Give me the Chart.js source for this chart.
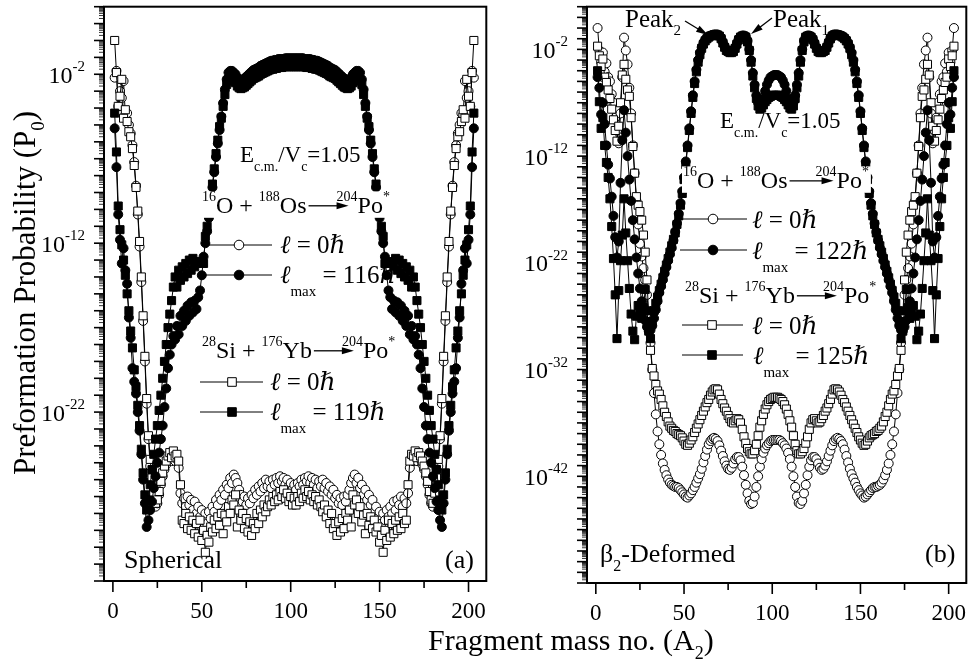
<!DOCTYPE html>
<html>
<head>
<meta charset="utf-8">
<script src="https://cdn.jsdelivr.net/npm/chart.js@4/dist/chart.umd.min.js"></script>
<style>
  body { margin: 0; background: #fff; }
  #wrap { position: relative; width: 973px; height: 669px; }
  canvas { position: absolute; top: 0; }
  #sph { left: 0; }
  #def { left: 493px; }
</style>
</head>
<body>
<div id="wrap">
  <canvas id="sph" width="493" height="669"></canvas>
  <canvas id="def" width="480" height="669"></canvas>
</div>
<script>
// fragment mass A2 = 1 .. 203 (compound nucleus 204Po*)
const massNo = Array.from({ length: 203 }, (_, i) => i + 1);

// log10(P0), A2 = 1..203
// (a) spherical
const sphO_l0 = [
  -2.2,-1.8,-3.9,-3.0,-3.4,-2.4,-4.4,-4.3,-5.0,-5.5,
  -6.2,-7.2,-8.6,-10.3,-12.2,-14.3,-16.6,-19.0,-21.5,-23.6,
  -25.2,-26.1,-27.0,-27.6,-27.4,-26.9,-26.3,-25.8,-25.4,-25.1,
  -24.8,-24.7,-24.9,-24.6,-24.9,-24.8,-25.3,-26.8,-27.4,-27.1,
  -27.6,-27.0,-27.5,-27.2,-27.8,-27.3,-28.0,-27.6,-28.2,-27.8,
  -28.4,-28.0,-28.6,-27.9,-28.3,-27.6,-27.9,-27.2,-27.5,-26.9,
  -27.2,-26.6,-26.9,-26.3,-26.5,-25.9,-26.2,-25.7,-25.9,-26.2,
  -26.6,-26.9,-27.3,-27.0,-27.5,-27.1,-27.4,-26.9,-27.1,-26.6,
  -26.9,-26.4,-26.7,-26.2,-26.5,-26.0,-26.4,-26.1,-26.5,-26.0,
  -26.3,-25.9,-26.2,-25.8,-26.1,-25.9,-26.3,-26.0,-26.4,-26.2,
  -26.6,-26.3,
  -26.6,-26.2,-26.4,-26.0,-26.3,-25.9,-26.1,-25.8,-26.2,-25.9,
  -26.3,-26.0,-26.5,-26.1,-26.4,-26.0,-26.5,-26.2,-26.7,-26.4,
  -26.9,-26.6,-27.1,-26.9,-27.4,-27.1,-27.5,-27.0,-27.3,-26.9,
  -26.6,-26.2,-25.9,-25.7,-26.2,-25.9,-26.5,-26.3,-26.9,-26.6,
  -27.2,-26.9,-27.5,-27.2,-27.9,-27.6,-28.3,-27.9,-28.6,-28.0,
  -28.4,-27.8,-28.2,-27.6,-28.0,-27.3,-27.8,-27.2,-27.5,-27.0,
  -27.6,-27.1,-27.4,-26.8,-25.3,-24.8,-24.9,-24.6,-24.9,-24.7,
  -24.8,-25.1,-25.4,-25.8,-26.3,-26.9,-27.4,-27.6,-27.0,-26.1,
  -25.2,-23.6,-21.5,-19.0,-16.6,-14.3,-12.2,-10.3,-8.6,-7.2,
  -6.2,-5.5,-5.0,-4.3,-4.4,-2.4,-3.4,-3.0,-3.9,-1.8,-2.2
];
const sphO_lmax = [
  -5.2,-7.5,-10.3,-11.8,-13.2,-12.3,-13.6,-14.4,-16.4,-17.6,
  -19.4,-20.2,-20.9,-22.0,-23.1,-24.5,-26.0,-27.4,-28.8,-28.4,
  -27.8,-27.3,-26.5,-25.8,-25.0,-24.4,-23.6,-22.8,-21.7,-20.6,
  -19.4,-18.6,-18.0,-17.5,-17.7,-16.9,-17.4,-16.3,-16.9,-16.0,
  -16.6,-15.7,-16.3,-15.5,-16.1,-15.4,-15.9,-15.2,-14.8,-13.9,
  -12.8,-12.0,-11.3,-10.5,-9.6,-8.7,-7.8,-6.9,-6.1,-5.3,
  -4.5,-3.7,-2.9,-2.3,-1.9,-1.8,-1.8,-1.9,-2.0,-2.2,
  -2.3,-2.35,-2.3,-2.25,-2.15,-2.05,-1.95,-1.85,-1.75,-1.7,
  -1.65,-1.6,-1.5,-1.45,-1.4,-1.35,-1.3,-1.25,-1.2,-1.2,
  -1.15,-1.15,-1.1,-1.1,-1.1,-1.1,-1.05,-1.05,-1.05,-1.05,
  -1.05,-1.05,
  -1.05,-1.05,-1.05,-1.05,-1.05,-1.1,-1.1,-1.1,-1.1,-1.15,
  -1.15,-1.2,-1.2,-1.25,-1.3,-1.35,-1.4,-1.45,-1.5,-1.6,
  -1.65,-1.7,-1.75,-1.85,-1.95,-2.05,-2.15,-2.25,-2.3,-2.35,
  -2.3,-2.2,-2.0,-1.9,-1.8,-1.8,-1.9,-2.3,-2.9,-3.7,
  -4.5,-5.3,-6.1,-6.9,-7.8,-8.7,-9.6,-10.5,-11.3,-12.0,
  -12.8,-13.9,-14.8,-15.2,-15.9,-15.4,-16.1,-15.5,-16.3,-15.7,
  -16.6,-16.0,-16.9,-16.3,-17.4,-16.9,-17.7,-17.5,-18.0,-18.6,
  -19.4,-20.6,-21.7,-22.8,-23.6,-24.4,-25.0,-25.8,-26.5,-27.3,
  -27.8,-28.4,-28.8,-27.4,-26.0,-24.5,-23.1,-22.0,-20.9,-20.2,
  -19.4,-17.6,-16.4,-14.4,-13.6,-12.3,-13.2,-11.8,-10.3,-7.5,-5.2
];
const sphSi_l0 = [
  0.0,-1.9,-3.9,-3.3,-2.3,-4.6,-4.1,-4.8,-5.4,-5.7,
  -6.4,-7.4,-8.7,-10.1,-11.9,-14.0,-16.3,-18.7,-21.2,-23.4,
  -24.8,-25.9,-26.8,-27.4,-27.2,-26.7,-26.1,-25.6,-25.2,-24.9,
  -24.6,-24.4,-24.7,-24.3,-24.6,-24.5,-24.9,-26.3,-28.4,-28.6,
  -28.0,-28.9,-28.2,-29.0,-28.4,-29.2,-28.6,-29.4,-28.4,-29.6,
  -29.0,-30.3,-29.3,-29.7,-28.8,-29.1,-28.4,-28.9,-28.2,-28.7,
  -28.0,-29.2,-28.1,-28.5,-27.6,-28.0,-27.2,-27.5,-26.9,-28.8,
  -27.8,-28.4,-28.0,-28.9,-28.3,-29.1,-28.5,-29.3,-28.6,-28.9,
  -28.0,-28.6,-27.8,-28.2,-27.5,-27.9,-27.6,-27.2,-27.5,-27.0,
  -27.3,-26.9,-27.2,-26.7,-27.0,-26.6,-27.1,-26.8,-27.3,-27.0,
  -27.5,-27.1,
  -27.5,-27.0,-27.3,-26.8,-27.1,-26.6,-27.0,-26.7,-27.2,-26.9,
  -27.3,-27.0,-27.5,-27.2,-27.6,-27.9,-27.5,-28.2,-27.8,-28.6,
  -28.0,-28.9,-28.6,-29.3,-28.5,-29.1,-28.3,-28.9,-28.0,-28.4,
  -27.8,-28.8,-26.9,-27.5,-27.2,-28.0,-27.6,-28.5,-28.1,-29.2,
  -28.0,-28.7,-28.2,-28.9,-28.4,-29.1,-28.8,-29.7,-29.3,-30.3,
  -29.0,-29.6,-28.4,-29.4,-28.6,-29.2,-28.4,-29.0,-28.2,-28.9,
  -28.0,-28.6,-28.4,-26.3,-24.9,-24.5,-24.6,-24.3,-24.7,-24.4,
  -24.6,-24.9,-25.2,-25.6,-26.1,-26.7,-27.2,-27.4,-26.8,-25.9,
  -24.8,-23.4,-21.2,-18.7,-16.3,-14.0,-11.9,-10.1,-8.7,-7.4,
  -6.4,-5.7,-5.4,-4.8,-4.1,-4.6,-2.3,-3.3,-3.9,-1.9,0.0
];
const sphSi_lmax = [
  -4.3,-6.6,-9.8,-11.2,-12.1,-13.0,-13.9,-15.0,-16.0,-17.2,
  -18.2,-19.5,-20.5,-21.6,-22.8,-24.2,-25.6,-26.9,-27.8,-27.2,
  -26.3,-25.4,-24.5,-23.6,-22.8,-21.9,-21.0,-20.0,-19.0,-18.0,
  -17.0,-16.2,-15.4,-14.6,-14.0,-14.6,-13.6,-14.2,-13.4,-14.0,
  -13.2,-13.8,-13.0,-13.6,-12.9,-13.4,-13.1,-13.2,-13.1,-13.2,
  -13.2,-11.6,-11.0,-10.2,-9.4,-8.5,-7.6,-6.7,-5.9,-5.1,
  -4.6,-3.9,-3.2,-2.6,-2.35,-2.25,-2.3,-2.4,-2.5,-2.7,
  -2.8,-2.85,-2.8,-2.75,-2.65,-2.55,-2.45,-2.35,-2.25,-2.2,
  -2.15,-2.1,-2.0,-1.95,-1.9,-1.85,-1.8,-1.75,-1.7,-1.7,
  -1.65,-1.65,-1.6,-1.6,-1.6,-1.55,-1.55,-1.55,-1.55,-1.55,
  -1.55,-1.55,
  -1.55,-1.55,-1.55,-1.55,-1.55,-1.55,-1.6,-1.6,-1.6,-1.65,
  -1.65,-1.7,-1.7,-1.75,-1.8,-1.85,-1.9,-1.95,-2.0,-2.1,
  -2.15,-2.2,-2.25,-2.35,-2.45,-2.55,-2.65,-2.75,-2.8,-2.85,
  -2.8,-2.7,-2.5,-2.4,-2.3,-2.25,-2.35,-2.6,-3.2,-3.9,
  -4.6,-5.1,-5.9,-6.7,-7.6,-8.5,-9.4,-10.2,-11.0,-11.6,
  -13.2,-13.2,-13.1,-13.2,-13.1,-13.4,-12.9,-13.6,-13.0,-13.8,
  -13.2,-14.0,-13.4,-14.2,-13.6,-14.6,-14.0,-14.6,-15.4,-16.2,
  -17.0,-18.0,-19.0,-20.0,-21.0,-21.9,-22.8,-23.6,-24.5,-25.4,
  -26.3,-27.2,-27.8,-26.9,-25.6,-24.2,-22.8,-21.6,-20.5,-19.5,
  -18.2,-17.2,-16.0,-15.0,-13.9,-13.0,-12.1,-11.2,-9.8,-6.6,-4.3
];

// (b) beta2-deformed
const defO_l0 = [
  0.0,-2.1,-3.2,-2.3,-4.1,-3.3,-4.6,-5.0,-6.2,-7.0,
  -8.4,-9.6,-10.8,-8.0,-4.6,-0.9,-2.1,-3.4,-5.6,-8.0,
  -11.0,-13.6,-16.2,-18.4,-20.2,-21.4,-22.5,-23.6,-25.0,-27.0,
  -29.5,-32.0,-34.2,-36.2,-37.8,-39.0,-40.0,-40.8,-41.4,-41.9,
  -42.3,-42.6,-42.8,-42.9,-43.0,-43.0,-43.1,-43.3,-43.5,-43.7,
  -43.9,-44.0,-43.8,-43.6,-43.3,-43.0,-42.6,-42.2,-41.8,-41.3,
  -40.7,-40.1,-39.5,-39.0,-38.7,-38.5,-38.4,-38.5,-38.7,-39.1,
  -39.6,-40.1,-40.6,-41.0,-41.3,-41.4,-41.2,-40.8,-40.4,-40.2,
  -40.2,-40.5,-41.1,-41.9,-42.8,-43.6,-44.3,-44.6,-44.5,-43.9,
  -43.0,-42.0,-41.1,-40.4,-39.8,-39.4,-39.1,-38.9,-38.7,-38.6,
  -38.6,-38.6,
  -38.6,-38.6,-38.7,-38.9,-39.1,-39.4,-39.8,-40.4,-41.1,-42.0,
  -43.0,-43.9,-44.5,-44.6,-44.3,-43.6,-42.8,-41.9,-41.1,-40.5,
  -40.2,-40.2,-40.4,-40.8,-41.2,-41.4,-41.3,-41.0,-40.6,-40.1,
  -39.6,-39.1,-38.7,-38.5,-38.4,-38.5,-38.7,-39.0,-39.5,-40.1,
  -40.7,-41.3,-41.8,-42.2,-42.6,-43.0,-43.3,-43.6,-43.8,-44.0,
  -43.9,-43.7,-43.5,-43.3,-43.1,-43.0,-43.0,-42.9,-42.8,-42.6,
  -42.3,-41.9,-41.4,-40.8,-40.0,-39.0,-37.8,-36.2,-34.2,-32.0,
  -29.5,-27.0,-25.0,-23.6,-22.5,-21.4,-20.2,-18.4,-16.2,-13.6,
  -11.0,-8.0,-5.6,-3.4,-2.1,-0.9,-4.6,-8.0,-10.8,-9.6,
  -8.4,-7.0,-6.2,-5.0,-4.6,-3.3,-4.1,-2.3,-3.2,-2.1,0.0
];
const defO_lmax = [
  -4.6,-5.6,-8.1,-7.0,-9.0,-11.0,-12.8,-14.1,-15.8,-17.6,
  -19.6,-21.5,-20.0,-14.5,-10.5,-7.7,-9.8,-12.0,-14.2,-16.2,
  -18.0,-19.8,-21.5,-23.0,-24.4,-25.6,-26.6,-27.4,-28.0,-28.4,
  -28.3,-27.9,-27.2,-26.4,-25.6,-24.8,-24.2,-23.6,-23.0,-22.4,
  -21.8,-21.2,-20.6,-19.9,-19.1,-18.3,-17.4,-16.4,-15.3,-14.0,
  -12.5,-11.0,-9.4,-7.8,-6.3,-5.0,-3.9,-3.0,-2.3,-1.8,
  -1.4,-1.1,-0.9,-0.8,-0.7,-0.65,-0.6,-0.6,-0.6,-0.7,
  -0.9,-1.3,-1.7,-2.0,-2.1,-2.2,-2.2,-2.1,-1.8,-1.4,
  -1.0,-0.8,-0.7,-0.7,-0.8,-1.2,-2.0,-3.0,-4.2,-5.3,
  -6.3,-7.0,-7.4,-7.2,-6.6,-5.9,-5.3,-4.9,-4.6,-4.5,
  -4.4,-4.4,
  -4.4,-4.5,-4.6,-4.9,-5.3,-5.9,-6.6,-7.2,-7.4,-7.0,
  -6.3,-5.3,-4.2,-3.0,-2.0,-1.2,-0.8,-0.7,-0.7,-0.8,
  -1.0,-1.4,-1.8,-2.1,-2.2,-2.2,-2.1,-2.0,-1.7,-1.3,
  -0.9,-0.7,-0.6,-0.6,-0.6,-0.65,-0.7,-0.8,-0.9,-1.1,
  -1.4,-1.8,-2.3,-3.0,-3.9,-5.0,-6.3,-7.8,-9.4,-11.0,
  -12.5,-14.0,-15.3,-16.4,-17.4,-18.3,-19.1,-19.9,-20.6,-21.2,
  -21.8,-22.4,-23.0,-23.6,-24.2,-24.8,-25.6,-26.4,-27.2,-27.9,
  -28.3,-28.4,-28.0,-27.4,-26.6,-25.6,-24.4,-23.0,-21.5,-19.8,
  -18.0,-16.2,-14.2,-12.0,-9.8,-7.7,-10.5,-14.5,-20.0,-21.5,
  -19.6,-17.6,-15.8,-14.1,-12.8,-11.0,-9.0,-7.0,-8.1,-5.6,-4.6
];
const defSi_l0 = [
  -1.7,-2.6,-3.6,-2.9,-4.6,-5.1,-5.8,-6.6,-7.6,-8.6,
  -9.6,-10.6,-9.2,-7.0,-4.4,-3.4,-4.8,-5.8,-6.4,-8.4,
  -11.1,-13.6,-15.8,-16.6,-17.2,-18.0,-19.4,-21.0,-23.6,-27.0,
  -30.2,-31.9,-32.6,-33.4,-34.0,-34.3,-34.8,-35.4,-36.0,-36.4,
  -36.9,-37.3,-37.5,-37.7,-37.8,-38.0,-38.1,-38.2,-38.4,-38.7,
  -39.0,-39.1,-38.9,-38.6,-38.3,-37.9,-37.5,-37.1,-36.7,-36.3,
  -35.9,-35.5,-35.1,-34.8,-34.4,-34.1,-33.9,-33.8,-33.9,-34.3,
  -34.8,-35.2,-35.6,-35.9,-36.3,-36.6,-36.9,-37.0,-36.8,-36.6,
  -36.7,-37.0,-37.6,-38.3,-38.9,-39.4,-39.7,-39.9,-39.9,-39.6,
  -39.0,-38.2,-37.4,-36.8,-36.2,-35.7,-35.3,-35.0,-34.8,-34.7,
  -34.6,-34.6,
  -34.6,-34.7,-34.8,-35.0,-35.3,-35.7,-36.2,-36.8,-37.4,-38.2,
  -39.0,-39.6,-39.9,-39.9,-39.7,-39.4,-38.9,-38.3,-37.6,-37.0,
  -36.7,-36.6,-36.8,-37.0,-36.9,-36.6,-36.3,-35.9,-35.6,-35.2,
  -34.8,-34.3,-33.9,-33.8,-33.9,-34.1,-34.4,-34.8,-35.1,-35.5,
  -35.9,-36.3,-36.7,-37.1,-37.5,-37.9,-38.3,-38.6,-38.9,-39.1,
  -39.0,-38.7,-38.4,-38.2,-38.1,-38.0,-37.8,-37.7,-37.5,-37.3,
  -36.9,-36.4,-36.0,-35.4,-34.8,-34.3,-34.0,-33.4,-32.6,-31.9,
  -30.2,-27.0,-23.6,-21.0,-19.4,-18.0,-17.2,-16.6,-15.8,-13.6,
  -11.1,-8.4,-6.4,-5.8,-4.8,-3.4,-4.4,-7.0,-9.2,-10.6,
  -9.6,-8.6,-7.6,-6.6,-5.8,-5.1,-4.6,-2.9,-3.6,-2.6,-1.7
];
const defSi_lmax = [
  -4.0,-6.9,-9.4,-8.4,-11.0,-12.6,-14.0,-16.0,-18.6,-21.6,
  -25.0,-29.1,-24.6,-21.8,-19.4,-16.0,-19.2,-21.8,-24.4,-26.8,
  -28.4,-29.2,-27.0,-26.0,-26.6,-27.2,-26.2,-24.5,-26.5,-28.4,
  -29.1,-27.5,-26.5,-25.8,-25.2,-24.6,-24.0,-23.4,-22.8,-22.2,
  -21.6,-21.0,-20.4,-19.8,-19.2,-18.4,-17.6,-16.6,-15.5,-14.2,
  -12.8,-11.2,-9.6,-8.0,-6.5,-5.2,-4.1,-3.2,-2.5,-1.9,
  -1.5,-1.2,-1.0,-0.85,-0.75,-0.7,-0.65,-0.65,-0.65,-0.75,
  -1.0,-1.4,-1.8,-2.1,-2.2,-2.3,-2.3,-2.2,-1.9,-1.5,
  -1.1,-0.85,-0.75,-0.75,-0.85,-1.3,-2.1,-3.2,-4.5,-5.6,
  -6.6,-7.3,-7.6,-7.5,-7.2,-6.9,-6.7,-6.5,-6.4,-6.3,
  -6.3,-6.3,
  -6.3,-6.3,-6.4,-6.5,-6.7,-6.9,-7.2,-7.5,-7.6,-7.3,
  -6.6,-5.6,-4.5,-3.2,-2.1,-1.3,-0.85,-0.75,-0.75,-0.85,
  -1.1,-1.5,-1.9,-2.2,-2.3,-2.3,-2.2,-2.1,-1.8,-1.4,
  -1.0,-0.75,-0.65,-0.65,-0.65,-0.7,-0.75,-0.85,-1.0,-1.2,
  -1.5,-1.9,-2.5,-3.2,-4.1,-5.2,-6.5,-8.0,-9.6,-11.2,
  -12.8,-14.2,-15.5,-16.6,-17.6,-18.4,-19.2,-19.8,-20.4,-21.0,
  -21.6,-22.2,-22.8,-23.4,-24.0,-24.6,-25.2,-25.8,-26.5,-27.5,
  -29.1,-28.4,-26.5,-24.5,-26.2,-27.2,-26.6,-26.0,-27.0,-29.2,
  -28.4,-26.8,-24.4,-21.8,-19.2,-16.0,-19.4,-21.8,-24.6,-29.1,
  -25.0,-21.6,-18.6,-16.0,-14.0,-12.6,-11.0,-8.4,-9.4,-6.9,-4.0
];

const xTicks = [0, 25, 50, 75, 100, 125, 150, 175, 200];

const FONT = '"Liberation Serif", "DejaVu Serif", serif';

function series(logs, shape, fill, order) {
  return {
    data: logs.map((e, i) => ({ x: massNo[i], y: Math.pow(10, e) })),
    borderColor: '#000',
    borderWidth: 1,
    pointStyle: shape,
    pointRadius: shape === 'rect' ? 5.7 : 4.5,
    pointBackgroundColor: fill,
    pointBorderColor: '#000',
    pointBorderWidth: 1,
    tension: 0,
    order: order
  };
}

function arrow(ctx, x1, y1, x2, y2) {
  const a = Math.atan2(y2 - y1, x2 - x1), head = 12, half = 3.5;
  const c = Math.cos(a), s = Math.sin(a);
  ctx.lineWidth = 1.3;
  ctx.beginPath();
  ctx.moveTo(x1, y1);
  ctx.lineTo(x2 - head * 0.8 * c, y2 - head * 0.8 * s);
  ctx.stroke();
  ctx.beginPath();
  ctx.moveTo(x2, y2);
  ctx.lineTo(x2 - head * c + half * s, y2 - head * s - half * c);
  ctx.lineTo(x2 - head * c - half * s, y2 - head * s + half * c);
  ctx.closePath();
  ctx.fill();
}

// draws a run of text pieces: [text, kind, offset]; kind n | i | sup | sub | arrow
function rich(ctx, x0, y0, size, parts, draw) {
  let cx = x0;
  for (const part of parts) {
    const [txt, kind = 'n', off] = Array.isArray(part) ? part : [part];
    if (kind === 'arrow') {
      if (draw) arrow(ctx, cx + 2, y0 - size * 0.3, cx + 2 + txt, y0 - size * 0.3);
      cx += 2 + txt - off;
      continue;
    }
    const small = kind === 'sup' || kind === 'sub';
    const fs = small ? Math.round(size * 0.6) : size;
    let dy = 0;
    if (kind === 'sup') dy = -size * 0.5;
    if (kind === 'sub') dy = size * 0.35;
    if (off !== undefined) dy = off;
    ctx.font = (kind === 'i' ? 'italic ' : '') + fs + 'px ' + FONT;
    if (draw) ctx.fillText(txt, cx, y0 + dy);
    cx += ctx.measureText(txt).width;
  }
  return cx;
}

function key(ctx, k) {
  ctx.lineWidth = 1;
  ctx.strokeStyle = '#000';
  ctx.beginPath();
  ctx.moveTo(k.x1, k.y);
  ctx.lineTo(k.x2, k.y);
  ctx.stroke();
  ctx.fillStyle = k.fill;
  ctx.beginPath();
  if (k.shape === 'circle') ctx.arc(k.mx, k.y, 4.8, 0, Math.PI * 2);
  else ctx.rect(k.mx - 4.3, k.y - 4.3, 8.6, 8.6);
  ctx.fill();
  ctx.stroke();
  ctx.fillStyle = '#000';
}

const ell0 = [['ℓ', 'i'], ' = 0', ['ℏ', 'i']];
const ellMax = n => [['ℓ', 'i'], ['max', 'sub', 13], ' = ' + n, ['ℏ', 'i']];

const panels = {
  sph: {
    dx: 0, yw: 104, top: 5, right: 3, xh: 88, yMin: -32,
    yLabels: [-2, -12, -22],
    yTitle: true,
    texts: [
      { x: 240, y: 162, size: 23, parts: ['E', ['c.m.', 'sub', 9], '/V', ['c', 'sub', 9], '=1.05'] },
      { x: 202, y: 213, size: 24, bg: true, parts: [['16', 'sup'], 'O + ', ['188', 'sup'], 'Os', [40, 'arrow', 12], ['204', 'sup'], 'Po', ['*', 'sup']] },
      { x: 280, y: 253, size: 25, parts: ell0 },
      { x: 280, y: 283, size: 25, parts: ellMax(116) },
      { x: 202, y: 358, size: 24, bg: true, parts: [['28', 'sup'], 'Si + ', ['176', 'sup'], 'Yb', [40, 'arrow', 12], ['204', 'sup'], 'Po', ['*', 'sup']] },
      { x: 270, y: 390, size: 25, parts: ell0 },
      { x: 270, y: 420, size: 25, parts: ellMax(119) },
      { x: 124, y: 568, size: 26, parts: ['Spherical'] },
      { x: 445, y: 568, size: 26, parts: ['(a)'] }
    ],
    keys: [
      { x1: 205, x2: 272, y: 245, mx: 239, shape: 'circle', fill: '#fff' },
      { x1: 205, x2: 272, y: 275, mx: 239, shape: 'circle', fill: '#000' },
      { x1: 200, x2: 263, y: 382, mx: 232, shape: 'rect', fill: '#fff' },
      { x1: 200, x2: 263, y: 412, mx: 232, shape: 'rect', fill: '#000' }
    ],
    arrows: []
  },
  def: {
    dx: -493, yw: 94, top: 6, right: 3, xh: 86, yMin: -52,
    yLabels: [-2, -12, -22, -32, -42],
    yTitle: false,
    texts: [
      { x: 132, y: 27, size: 25, parts: ['Peak', ['2', 'sub', 8]] },
      { x: 280, y: 27, size: 25, parts: ['Peak', ['1', 'sub', 8]] },
      { x: 227, y: 128, size: 23, parts: ['E', ['c.m.', 'sub', 9], '/V', ['c', 'sub', 9], '=1.05'] },
      { x: 190, y: 188, size: 24, bg: true, parts: [['16', 'sup'], 'O + ', ['188', 'sup'], 'Os', [44, 'arrow', 18], ['204', 'sup'], 'Po', ['*', 'sup']] },
      { x: 259, y: 228, size: 25, parts: ell0 },
      { x: 259, y: 259, size: 25, parts: ellMax(122) },
      { x: 192, y: 303, size: 24, bg: true, parts: [['28', 'sup'], 'Si + ', ['176', 'sup'], 'Yb', [40, 'arrow', 14], ['204', 'sup'], 'Po', ['*', 'sup']] },
      { x: 259, y: 334, size: 25, parts: ell0 },
      { x: 260, y: 364, size: 25, parts: ellMax(125) },
      { x: 107, y: 562, size: 26, parts: ['β', ['2', 'sub', 9], '-Deformed'] },
      { x: 432, y: 562, size: 26, parts: ['(b)'] }
    ],
    keys: [
      { x1: 187, x2: 254, y: 219, mx: 220, shape: 'circle', fill: '#fff' },
      { x1: 187, x2: 254, y: 250, mx: 220, shape: 'circle', fill: '#000' },
      { x1: 189, x2: 250, y: 325, mx: 219, shape: 'rect', fill: '#fff' },
      { x1: 189, x2: 250, y: 355, mx: 219, shape: 'rect', fill: '#000' }
    ],
    arrows: [[192, 21, 215, 35], [279, 18, 258, 34]]
  }
};

const decor = {
  id: 'decor',
  afterDraw(chart) {
    const p = panels[chart.canvas.id];
    const { ctx, chartArea: a, scales: { x, y } } = chart;
    ctx.save();
    ctx.fillStyle = '#000';
    ctx.strokeStyle = '#000';
    ctx.textBaseline = 'alphabetic';

    // y ticks: decades long, 2..9 short
    for (let e = p.yMin; e <= 2; e++) {
      const py = y.getPixelForValue(Math.pow(10, e));
      ctx.lineWidth = 1.6;
      ctx.beginPath(); ctx.moveTo(a.left - 10, py); ctx.lineTo(a.left, py); ctx.stroke();
      if (e < 2) {
        ctx.lineWidth = 0.8;
        for (let m = 2; m <= 9; m++) {
          const pm = y.getPixelForValue(m * Math.pow(10, e));
          ctx.beginPath(); ctx.moveTo(a.left - 5, pm); ctx.lineTo(a.left, pm); ctx.stroke();
        }
      }
    }
    // y labels 10^n
    ctx.textAlign = 'left';
    p.yLabels.forEach(e => {
      const py = y.getPixelForValue(Math.pow(10, e));
      ctx.font = '15px ' + FONT;
      const ew = ctx.measureText(String(e)).width;
      ctx.font = '24px ' + FONT;
      const bw = ctx.measureText('10').width;
      const xr = a.left - 19;
      ctx.fillText('10', xr - ew - bw, py + 8.5);
      ctx.font = '15px ' + FONT;
      ctx.fillText(String(e), xr - ew, py - 3);
    });

    // x ticks and labels
    ctx.textAlign = 'center';
    ctx.font = '23px ' + FONT;
    xTicks.forEach(v => {
      const px = x.getPixelForValue(v);
      const major = v % 50 === 0;
      ctx.lineWidth = 1.6;
      ctx.beginPath(); ctx.moveTo(px, a.bottom); ctx.lineTo(px, a.bottom + (major ? 11 : 7)); ctx.stroke();
      if (major) ctx.fillText(String(v), px, a.bottom + 37);
    });
    ctx.textAlign = 'left';

    // frame
    ctx.lineWidth = 2;
    ctx.strokeRect(a.left, a.top, a.right - a.left, a.bottom - a.top);

    // legend samples
    p.keys.forEach(k => key(ctx, k));

    // annotations
    p.texts.forEach(t => {
      if (t.bg) {
        const w = rich(ctx, t.x, t.y, t.size, t.parts, false) - t.x;
        ctx.fillStyle = '#fff';
        ctx.fillRect(t.x - 1, t.y - t.size * 0.9, w + 3, t.size * 1.1);
        ctx.fillStyle = '#000';
      }
      rich(ctx, t.x, t.y, t.size, t.parts, true);
    });
    p.arrows.forEach(r => arrow(ctx, r[0], r[1], r[2], r[3]));

    // shared x title (drawn in both canvases, clipped by each)
    rich(ctx, 428 + p.dx, 650, 30, ['Fragment mass no. (A', ['2', 'sub', 9], ')'], true);

    // y title
    if (p.yTitle) {
      const parts = ['Preformation Probability (P', ['0', 'sub', 9], ')'];
      ctx.translate(35, 293);
      ctx.rotate(-Math.PI / 2);
      const w = rich(ctx, 0, 0, 31, parts, false);
      rich(ctx, -w / 2, 0, 31, parts, true);
    }
    ctx.restore();
  }
};

function makeChart(id, sets) {
  const p = panels[id];
  return new Chart(document.getElementById(id), {
    type: 'line',
    data: { datasets: sets },
    options: {
      responsive: false,
      animation: false,
      devicePixelRatio: 1,
      layout: { padding: { top: p.top, right: p.right, left: 0, bottom: 0 } },
      plugins: { legend: { display: false }, tooltip: { enabled: false } },
      scales: {
        x: {
          type: 'linear', min: -5, max: 210,
          ticks: { display: false }, grid: { display: false }, border: { display: false },
          afterFit: s => { s.height = p.xh; }
        },
        y: {
          type: 'logarithmic', min: Math.pow(10, p.yMin), max: 100,
          ticks: { display: false }, grid: { display: false }, border: { display: false },
          afterFit: s => { s.width = p.yw; }
        }
      }
    },
    plugins: [decor]
  });
}

makeChart('sph', [
  series(sphO_l0, 'circle', '#fff', 4),
  series(sphSi_l0, 'rect', '#fff', 3),
  series(sphSi_lmax, 'rect', '#000', 2),
  series(sphO_lmax, 'circle', '#000', 1)
]);
makeChart('def', [
  series(defO_l0, 'circle', '#fff', 4),
  series(defSi_l0, 'rect', '#fff', 3),
  series(defSi_lmax, 'rect', '#000', 2),
  series(defO_lmax, 'circle', '#000', 1)
]);
</script>
</body>
</html>
